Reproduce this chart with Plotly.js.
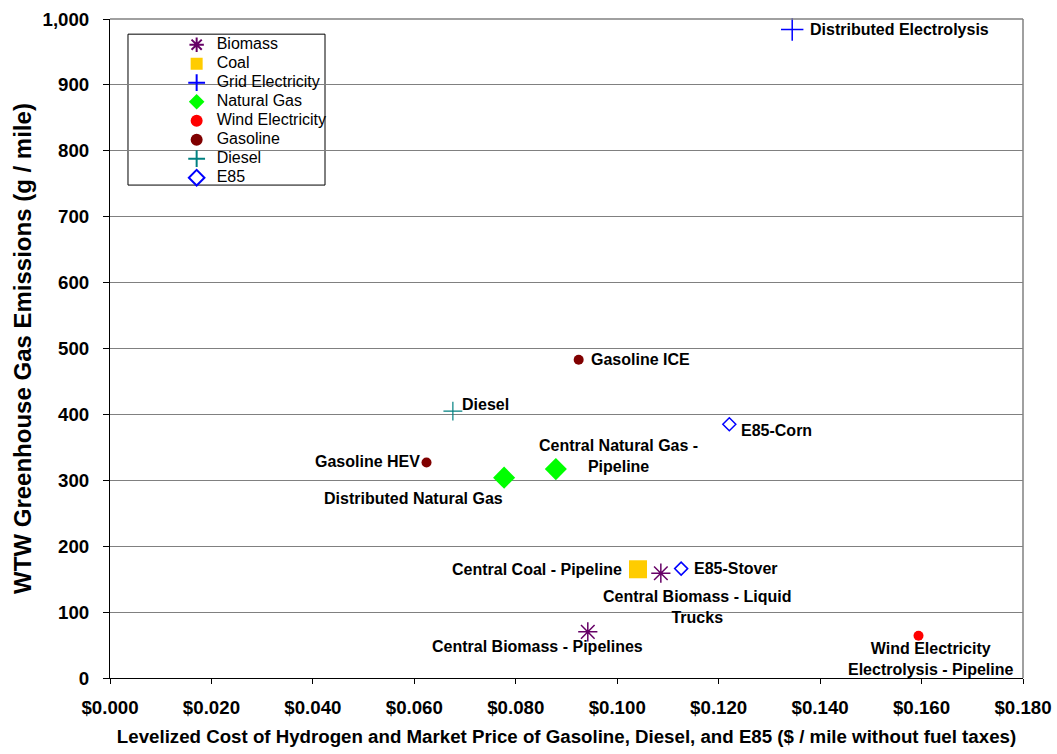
<!DOCTYPE html>
<html>
<head>
<meta charset="utf-8">
<script src="https://cdn.plot.ly/plotly-3.0.1.min.js"></script>
<style>html,body{margin:0;padding:0;background:#fff;}#chart{width:1057px;height:754px;}</style>
</head>
<body>
<div id="chart"></div>
<script>
// ---- Data ----
const seriesNames = ["Biomass", "Coal", "Grid Electricity", "Natural Gas", "Wind Electricity", "Gasoline", "Diesel", "E85"];

const biomassX = [0.1086, 0.0942];
const biomassY = [159, 70];
const biomassLabels = ["Central Biomass - Liquid<br>Trucks", "Central Biomass - Pipelines"];

const coalX = [0.1041];
const coalY = [165];
const coalLabels = ["Central Coal - Pipeline"];

const gridX = [0.1345];
const gridY = [984];
const gridLabels = ["Distributed Electrolysis"];

const natGasX = [0.0777, 0.0879];
const natGasY = [304, 317];
const natGasLabels = ["Distributed Natural Gas", "Central Natural Gas -<br>Pipeline"];

const windX = [0.1594];
const windY = [64];
const windLabels = ["Wind Electricity<br>Electrolysis - Pipeline"];

const gasolineX = [0.0924, 0.0624];
const gasolineY = [483, 327];
const gasolineLabels = ["Gasoline ICE", "Gasoline HEV"];

const dieselX = [0.0676];
const dieselY = [405];
const dieselLabels = ["Diesel"];

const e85X = [0.1221, 0.1126];
const e85Y = [385, 166];
const e85Labels = ["E85-Corn", "E85-Stover"];

const xTitle = "Levelized Cost of Hydrogen and Market Price of Gasoline, Diesel, and E85 ($ / mile without fuel taxes)";
const yTitle = "WTW Greenhouse Gas Emissions (g / mile)";

// ---- Styles ----
const FONT = "Liberation Sans, Arial, sans-serif";
const styles = [
  {symbol: "asterisk-open", size: 16, color: "#660066", line: {color: "#660066", width: 1.5}},
  {symbol: "square", size: 18, color: "#FFCC00", line: {width: 0}},
  {symbol: "cross-thin-open", size: 16, color: "#0000FF", line: {color: "#0000FF", width: 1.5}},
  {symbol: "diamond", size: 17, color: "#00FF00", line: {width: 0}},
  {symbol: "circle", size: 10, color: "#FF0000", line: {width: 0}},
  {symbol: "circle", size: 10, color: "#800000", line: {width: 0}},
  {symbol: "cross-thin-open", size: 13.5, color: "#008080", line: {color: "#008080", width: 1.2}},
  {symbol: "diamond-open", size: 10, color: "#0000FF", line: {color: "#0000FF", width: 1.5}}
];

// label placement (pixel offsets from the point)
const labelPlacement = [
  [{xa: "center", dx: 36, dy: -34}, {xa: "center", dx: -50, dy: -15}],
  [{xa: "right", dx: -14, dy: 0}],
  [{xa: "left", dx: 16, dy: 0}],
  [{xa: "center", dx: -91, dy: -21}, {xa: "center", dx: 63, dy: 13}],
  [{xa: "center", dx: 12, dy: -23}],
  [{xa: "left", dx: 10, dy: 0}, {xa: "right", dx: -5, dy: 1}],
  [{xa: "left", dx: 7, dy: 7}],
  [{xa: "left", dx: 10, dy: -6}, {xa: "left", dx: 11, dy: 0}]
];

const xs = [biomassX, coalX, gridX, natGasX, windX, gasolineX, dieselX, e85X];
const ys = [biomassY, coalY, gridY, natGasY, windY, gasolineY, dieselY, e85Y];
const labs = [biomassLabels, coalLabels, gridLabels, natGasLabels, windLabels, gasolineLabels, dieselLabels, e85Labels];

const traces = seriesNames.map((name, i) => ({
  type: "scatter", mode: "markers",
  name: '<span style="font-size:16px">' + name + '</span>',
  x: xs[i], y: ys[i], cliponaxis: false,
  marker: {symbol: styles[i].symbol, size: styles[i].size, color: styles[i].color, line: styles[i].line}
}));

const annotations = [];
labs.forEach((arr, i) => {
  arr.forEach((t, j) => {
    const p = labelPlacement[i][j];
    annotations.push({
      x: xs[i][j], y: ys[i][j], xref: "x", yref: "y",
      text: "<b>" + t + "</b>", showarrow: false,
      xanchor: p.xa, yanchor: "middle", xshift: p.dx, yshift: p.dy,
      align: "center", font: {family: FONT, size: 16, color: "#000"}
    });
  });
});

const layout = {
  width: 1057, height: 754,
  margin: {l: 110, r: 34, t: 19, b: 76},
  paper_bgcolor: "#fff", plot_bgcolor: "#fff",
  font: {family: FONT, color: "#000"},
  showlegend: true,
  legend: {
    x: 0.073, y: 0.983, xanchor: "left", yanchor: "top",
    bgcolor: "rgba(0,0,0,0)", borderwidth: 0,
    font: {family: FONT, size: 12, color: "#000"},
    itemsizing: "constant"
  },
  xaxis: {
    range: [0, 0.18], dtick: 0.02, tick0: 0, tickformat: "$.3f",
    showgrid: false, zeroline: false,
    showline: true, linecolor: "#000", linewidth: 1,
    ticks: "outside", ticklen: 5, tickcolor: "#000",
    ticklabelstandoff: 8,
    tickfont: {family: FONT, size: 18.7, color: "#000", weight: "bold"},
    title: {text: "<b>" + xTitle + "</b>", font: {family: FONT, size: 18.7, color: "#000"}, standoff: 12}
  },
  yaxis: {
    range: [0, 1000], dtick: 100, tick0: 0, tickformat: ",d",
    showgrid: true, gridcolor: "#808080", gridwidth: 1,
    zeroline: false,
    showline: true, linecolor: "#000", linewidth: 1,
    ticks: "outside", ticklen: 6, tickcolor: "#000",
    ticklabelstandoff: 10,
    tickfont: {family: FONT, size: 18.7, color: "#000", weight: "bold"},
    title: {text: "<b>" + yTitle + "</b>", font: {family: FONT, size: 24, color: "#000"}, standoff: 4}
  },
  shapes: [
    {type: "line", xref: "paper", yref: "paper", x0: 0, x1: 1, y0: 1, y1: 1, line: {color: "#808080", width: 1.5}},
    {type: "line", xref: "paper", yref: "paper", x0: 1, x1: 1, y0: 0, y1: 1, line: {color: "#808080", width: 1.5}},
    {type: "rect", xref: "paper", yref: "paper", x0: 0.0197, x1: 0.2355, y0: 0.748, y1: 0.977, line: {color: "#000", width: 1}, layer: "below"}
  ],
  annotations: annotations
};

Plotly.newPlot("chart", traces, layout, {displayModeBar: false, staticPlot: true});
</script>
</body>
</html>
